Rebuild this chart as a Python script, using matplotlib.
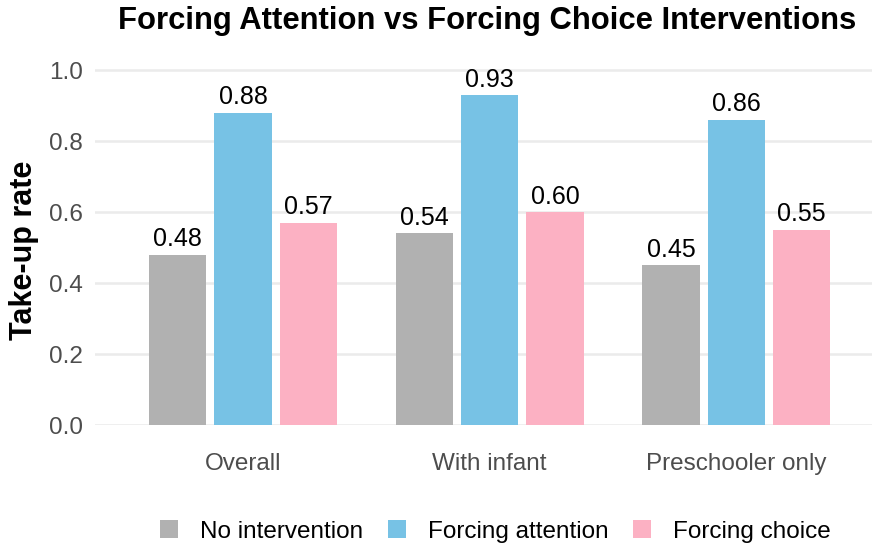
import matplotlib
matplotlib.use("Agg")
import matplotlib.pyplot as plt
import numpy as np

plt.rcParams['font.family'] = ['Liberation Sans', 'DejaVu Sans']

# Data
groups = ['Overall', 'With infant', 'Preschooler only']
series = ['No intervention', 'Forcing attention', 'Forcing choice']
no_intervention = [0.48, 0.54, 0.45]
forcing_attention = [0.88, 0.93, 0.86]
forcing_choice = [0.57, 0.60, 0.55]
colors = ['#B1B1B1', '#77C2E5', '#FCB1C3']

values = [no_intervention, forcing_attention, forcing_choice]

fig = plt.figure(figsize=(8.75, 5.47), dpi=100)
ax = fig.add_axes([0.1086, 0.223, 0.888, 0.668])

x = np.arange(1, len(groups) + 1)
dodge = 0.265
width = 0.232
for i, (name, vals, c) in enumerate(zip(series, values, colors)):
    pos = x + (i - 1) * dodge
    ax.bar(pos, vals, width=width, color=c, label=name, zorder=2)
    for p, v in zip(pos, vals):
        ax.text(p, v + 0.01, f'{v:.2f}', ha='center', va='bottom',
                fontsize=18, color='black')

ax.set_xlim(0.4, 3.55)
ax.set_ylim(0, 1.03)
ticks = [0, 0.2, 0.4, 0.6, 0.8, 1.0]
ax.set_yticks(ticks)
ax.set_yticklabels([f'{t:.1f}' for t in ticks])
ax.set_xticks(x)
ax.set_xticklabels(groups)
ax.tick_params(axis='both', length=0, labelsize=17.5, colors='#4D4D4D')
ax.tick_params(axis='y', pad=9)
ax.tick_params(axis='x', pad=20)
ax.grid(axis='y', color='#EBEBEB', linewidth=1.8, zorder=0)
for s in ax.spines.values():
    s.set_visible(False)

ax.set_ylabel('Take-up rate', fontsize=22, fontweight='bold')
ax.yaxis.set_label_coords(-0.072, 0.479)
fig.text(0.557, 0.962, 'Forcing Attention vs Forcing Choice Interventions',
         ha='center', va='center', fontsize=22.3, fontweight='bold')

fig.legend(loc='center', bbox_to_anchor=(0.566, 0.028), ncol=3, frameon=False,
           fontsize=17.5, handlelength=0.75, handleheight=0.75, handletextpad=0.9,
           columnspacing=1.0)

fig.savefig('out.png', dpi=100)
